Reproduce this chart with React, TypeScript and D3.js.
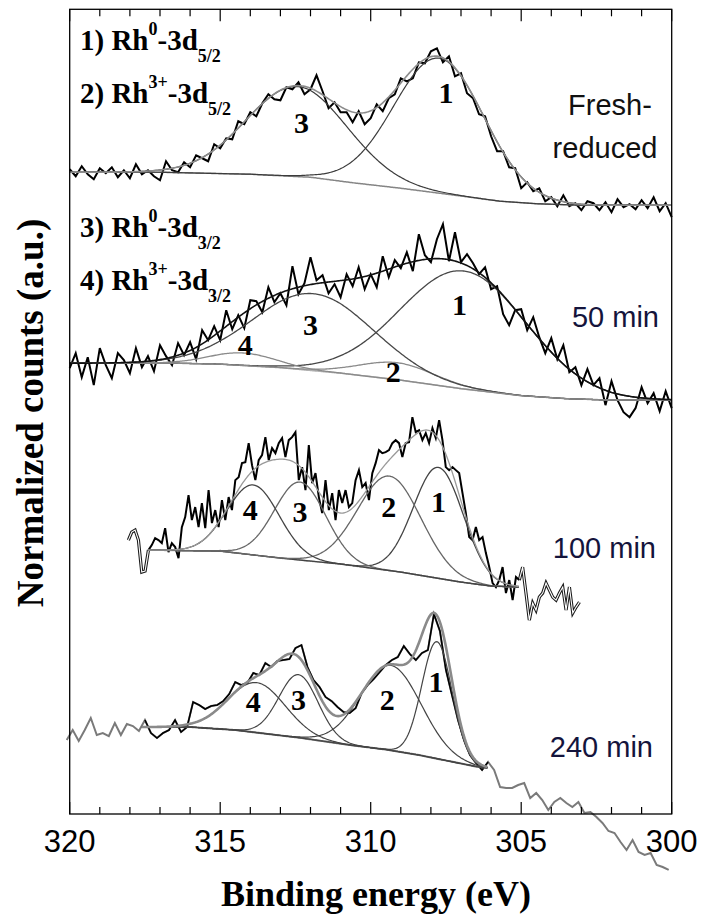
import React from 'react';
import * as d3 from 'd3';

const SERIF = '"Liberation Serif", "Times New Roman", serif';
const SANS = '"Liberation Sans", Arial, sans-serif';

const frame = { left: 69.7, right: 671.7, top: 9.3, bottom: 814 };
const energyDomain = [320, 300];
const countsDomain = [0, 805];
const majorTicks = [320, 315, 310, 305, 300];
const minorTicks = d3.range(300, 321, 1);

// ---- Fresh-reduced (raw counts, 0.2 eV step from 320 eV)
const freshStart = 320;
const freshStep = 0.2;
const freshCounts = [
  645, 638, 648, 640, 635, 646, 641, 647, 637, 644,
  636, 650, 640, 644, 638, 634, 653, 644, 642, 652,
  647, 659, 656, 653, 670, 666, 676, 675, 693, 690,
  702, 698, 711, 720, 715, 714, 727, 725, 732, 720,
  725, 739, 723, 706, 712, 702, 702, 692, 703, 690,
  696, 710, 703, 716, 720, 736, 733, 736, 752, 751,
  763, 766, 752, 758, 738, 741, 721, 716, 700, 698,
  678, 663, 663, 647, 646, 626, 632, 623, 626, 613,
  617, 608, 619, 608, 611, 604, 613, 611, 604, 612,
  602, 615, 607, 610, 605, 614, 606, 617, 603, 611,
  597,
];
const freshFit = [320, 300];
const freshBackground = [
  [320, 642], [317, 642], [314, 640], [312, 637], [310.6, 631.5], [309, 626],
  [307.2, 619], [305.7, 613], [304.5, 610.5], [303, 609], [300, 609],
];
const freshCenter = [307.73, 312.45];
const freshHeight = [135, 90];
const freshSigma = [1.5, 1.68];

// ---- 50 min
const m50Start = 320;
const m50Step = 0.2;
const m50Counts = [
  446, 461, 437, 457, 429, 466, 449, 436, 461, 454,
  441, 466, 447, 458, 443, 469, 458, 449, 471, 459,
  472, 455, 484, 474, 488, 474, 504, 485, 499, 486,
  514, 513, 502, 527, 512, 521, 509, 548, 520, 531,
  557, 534, 539, 521, 530, 517, 540, 528, 547, 525,
  540, 527, 558, 537, 554, 546, 562, 543, 580, 559,
  552, 575, 590, 553, 582, 552, 560, 551, 540, 547,
  525, 528, 500, 489, 504, 505, 484, 497, 477, 461,
  476, 455, 469, 442, 447, 429, 445, 429, 436, 409,
  433, 414, 402, 397, 406, 427, 411, 421, 403, 423,
  406,
];
const m50Fit = [320, 300];
const m50Background = [
  [320, 451], [316.5, 451], [315, 450], [313, 446.5], [311, 441], [309, 434],
  [307, 425.5], [305, 418.5], [303.5, 415.5], [302, 414], [300, 414],
];
const m50Center = [306.9, 309.12, 311.91, 314.24];
const m50Height = [118, 17, 77, 12.5];
const m50Sigma = [2.1, 1.25, 2.0, 1.1];

// ---- 100 min (0.111 eV step from 318.05 eV)
const m100Start = 318.05;
const m100Step = 0.111;
const m100Counts = [
  274, 282, 284, 274, 242, 243, 264, 269, 276, 274,
  271, 286, 262, 271, 267, 256, 287, 297, 319, 294,
  307, 287, 311, 286, 324, 291, 304, 287, 314, 294,
  317, 304, 334, 337, 351, 352, 371, 349, 334, 354,
  359, 377, 354, 366, 361, 371, 376, 357, 374, 377,
  382, 334, 347, 324, 369, 331, 341, 317, 301, 334,
  304, 321, 294, 324, 311, 324, 307, 311, 334, 344,
  327, 331, 314, 341, 351, 364, 361, 362, 364, 371,
  374, 371, 357, 371, 372, 397, 382, 384, 374, 381,
  371, 386, 376, 394, 374, 347, 344, 347, 344, 341,
  321, 301, 277, 274, 287, 274, 277, 261, 247, 231,
  227, 234, 247, 221, 234, 214, 237, 234, 247, 221,
  194, 211, 204, 217, 221, 231, 224, 217, 214, 221,
  227, 204, 227, 201, 207, 212,
];
const m100Fit = [317.4, 305.06];
const m100Background = [
  [317.4, 264], [315, 263], [313, 256], [311, 250], [309, 242],
  [307, 232], [306, 228], [305.06, 227],
];
const m100Center = [307.75, 309.38, 312.35, 313.9];
const m100Height = [111, 94.5, 78, 70];
const m100Sigma = [0.83, 1.05, 0.85, 0.86];

// ---- 240 min (0.2 eV step from 320.1 eV)
const m240Start = 320.1;
const m240Step = 0.2;
const m240Counts = [
  74, 84, 73, 84, 96, 79, 81, 78, 91, 79,
  90, 88, 83, 94, 81, 76, 81, 84, 94, 82,
  87, 112, 109, 105, 108, 109, 113, 120, 132, 129,
  131, 141, 139, 151, 147, 153, 154, 155, 166, 169,
  147, 134, 127, 117, 113, 107, 102, 101, 106, 121,
  129, 135, 142, 149, 154, 157, 168, 160, 154, 161,
  164, 200, 183, 144, 119, 94, 74, 59, 51, 44,
  52, 44, 27, 26, 26, 29, 31, 16, 21, 14,
  4, 12, 16, 11, 7, 12, 1, 2, -3, -9,
  -17, -19, -28, -36, -26, -38, -41, -39, -51, -53,
  -56,
];
const m240Fit = [317.6, 306.1];
const m240Background = [
  [317.6, 87], [316, 87], [314.5, 84], [312.3, 76], [310.7, 69], [309.5, 64.5],
  [308.4, 59], [307.3, 52.3], [306.5, 47.5], [306.1, 46],
];
const m240Center = [307.8, 309.33, 312.4, 313.79];
const m240Height = [117, 85, 63, 50];
const m240Sigma = [0.5, 1.0, 0.65, 0.95];

const spectra = [
  {
    start: freshStart, step: freshStep, counts: freshCounts, fit: freshFit,
    background: freshBackground, center: freshCenter, height: freshHeight, sigma: freshSigma,
    outside: 'none', rawWidth: 2, envColor: '#8c8c8c', envWidth: 1.6,
    compColor: ['#3c3c3c', '#3c3c3c'], compWidth: 1.2, bgColor: '#858585', bgWidth: 1.5,
  },
  {
    start: m50Start, step: m50Step, counts: m50Counts, fit: m50Fit,
    background: m50Background, center: m50Center, height: m50Height, sigma: m50Sigma,
    outside: 'none', rawWidth: 2, envColor: '#111', envWidth: 1.6,
    compColor: ['#474747', '#8a8a8a', '#474747', '#8a8a8a'], compWidth: 1.3,
    bgColor: '#b0b0b0', bgWidth: 1.6,
  },
  {
    start: m100Start, step: m100Step, counts: m100Counts, fit: m100Fit,
    background: m100Background, center: m100Center, height: m100Height, sigma: m100Sigma,
    outside: 'hollow', rawWidth: 2, envColor: '#9a9a9a', envWidth: 1.3,
    compColor: ['#444', '#666', '#666', '#444'], compWidth: 1.3,
    bgColor: '#a8a8a8', bgWidth: 1.6,
  },
  {
    start: m240Start, step: m240Step, counts: m240Counts, fit: m240Fit,
    background: m240Background, center: m240Center, height: m240Height, sigma: m240Sigma,
    outside: 'grey', rawWidth: 1.6, envColor: '#8a8a8a', envWidth: 2.6,
    compColor: ['#444', '#444', '#444', '#444'], compWidth: 1.2,
    bgColor: '#7a7a7a', bgWidth: 2,
  },
];

const peakLabels = [
  { text: '3', e: 312.3, v: 681 }, { text: '1', e: 307.5, v: 711 },
  { text: '4', e: 314.17, v: 459 }, { text: '3', e: 312.0, v: 479 },
  { text: '2', e: 309.25, v: 432 }, { text: '1', e: 307.05, v: 499 },
  { text: '4', e: 314.0, v: 294 }, { text: '3', e: 312.35, v: 292 },
  { text: '2', e: 309.4, v: 297 }, { text: '1', e: 307.75, v: 302 },
  { text: '4', e: 313.9, v: 102 }, { text: '3', e: 312.4, v: 104 },
  { text: '2', e: 309.45, v: 104 }, { text: '1', e: 307.83, v: 122 },
];

function buildModel(s) {
  const bg = d3.scaleLinear()
    .domain(s.background.map(d => d[0]))
    .range(s.background.map(d => d[1]))
    .clamp(true);
  const grid = d3.range(s.fit[0], s.fit[1] - 0.001, -0.04);
  const comp = (k, e) => s.height[k] * Math.exp(-((e - s.center[k]) ** 2) / (2 * s.sigma[k] ** 2));
  return {
    baseline: grid.map(e => [e, bg(e)]),
    components: s.center.map((_, k) => grid.map(e => [e, bg(e) + comp(k, e)])),
    envelope: grid.map(e => [e, bg(e) + d3.sum(s.center, (_, k) => comp(k, e))]),
  };
}

function Legend({ num, ox, sub, yb }) {
  return (
    <text x={80} y={yb} fontFamily={SERIF} fontWeight="bold" fontSize={29} fill="#000">
      {num}) Rh
      <tspan fontSize={18} dy={-15}>{ox}</tspan>
      <tspan dy={15}>-3d</tspan>
      <tspan fontSize={18} dy={12}>{sub}</tspan>
    </text>
  );
}

export default function App() {
  const x = d3.scaleLinear().domain(energyDomain).range([frame.left, frame.right]);
  const y = d3.scaleLinear().domain(countsDomain).range([frame.bottom, frame.top]);
  const line = d3.line().x(d => x(d[0])).y(d => y(d[1]));

  return (
    <svg width={702} height={922} style={{ position: 'absolute', left: 0, top: 0, background: '#fff' }}>
      {spectra.map((s, i) => {
        const pts = s.counts.map((v, j) => [s.start - j * s.step, v]);
        const inFit = pts.filter(p => p[0] <= s.fit[0] + 0.02 && p[0] >= s.fit[1] - 0.02);
        const m = buildModel(s);
        return (
          <g key={i} fill="none">
            {s.outside === 'grey' && (
              <path d={line(pts)} stroke="#7a7a7a" strokeWidth={2} />
            )}
            {s.outside === 'hollow' && [
              pts.filter(p => p[0] >= s.fit[0] - 0.02),
              pts.filter(p => p[0] <= s.fit[1] + 0.02),
            ].map((seg, k) => (
              <g key={k}>
                <path d={line(seg)} stroke="#1a1a1a" strokeWidth={3.2} />
                <path d={line(seg)} stroke="#fff" strokeWidth={1.1} />
              </g>
            ))}
            <path d={line(inFit)} stroke="#000" strokeWidth={s.rawWidth} />
            <path d={line(m.baseline)} stroke={s.bgColor} strokeWidth={s.bgWidth} />
            {m.components.map((c, k) => (
              <path key={k} d={line(c)} stroke={s.compColor[k]} strokeWidth={s.compWidth} />
            ))}
            <path d={line(m.envelope)} stroke={s.envColor} strokeWidth={s.envWidth} />
          </g>
        );
      })}

      {/* frame and ticks */}
      <rect x={frame.left} y={frame.top} width={frame.right - frame.left}
        height={frame.bottom - frame.top} fill="none" stroke="#000" strokeWidth={1.3} />
      {minorTicks.map(t => {
        const len = majorTicks.includes(t) ? 12 : 7;
        return (
          <g key={t} stroke="#000" strokeWidth={1.2}>
            <line x1={x(t)} x2={x(t)} y1={frame.bottom} y2={frame.bottom - len} />
            <line x1={x(t)} x2={x(t)} y1={frame.top} y2={frame.top + len} />
          </g>
        );
      })}
      {majorTicks.map(t => (
        <text key={t} x={x(t)} y={852} textAnchor="middle" fontFamily={SANS} fontSize={31} fill="#000">
          {t}
        </text>
      ))}

      {/* peak labels */}
      {peakLabels.map((p, i) => (
        <text key={i} x={x(p.e)} y={y(p.v)} textAnchor="middle" fontFamily={SERIF}
          fontWeight="bold" fontSize={30} fill="#000">{p.text}</text>
      ))}

      {/* legend */}
      <Legend num="1" ox="0" sub="5/2" yb={50} />
      <Legend num="2" ox="3+" sub="5/2" yb={103} />
      <Legend num="3" ox="0" sub="3/2" yb={237} />
      <Legend num="4" ox="3+" sub="3/2" yb={290} />

      {/* spectrum names */}
      <g fontFamily={SANS} fontSize={29}>
        <text x={610} y={115} textAnchor="middle" fill="#111">Fresh-</text>
        <text x={605} y={158} textAnchor="middle" fill="#111">reduced</text>
        <text x={659} y={327} textAnchor="end" fill="#14143c">50 min</text>
        <text x={656} y={558} textAnchor="end" fill="#14143c">100 min</text>
        <text x={653} y={757} textAnchor="end" fill="#14143c">240 min</text>
      </g>

      {/* axis titles */}
      <text x={376} y={906} textAnchor="middle" fontFamily={SERIF} fontWeight="bold" fontSize={36}>
        Binding energy (eV)
      </text>
      <text transform="translate(43,413) rotate(-90)" textAnchor="middle" fontFamily={SERIF}
        fontWeight="bold" fontSize={37}>
        Normalized counts (a.u.)
      </text>
    </svg>
  );
}
